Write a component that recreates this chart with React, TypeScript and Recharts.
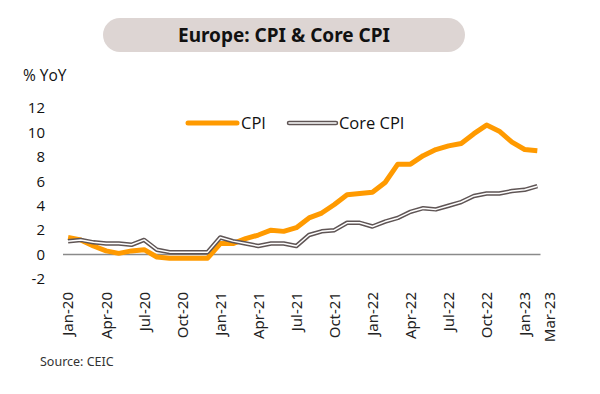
import React from 'react';
import { LineChart, Line, XAxis, YAxis, ReferenceLine, Legend } from 'recharts';

const months = [
  'Jan-20','Feb-20','Mar-20','Apr-20','May-20','Jun-20','Jul-20','Aug-20','Sep-20','Oct-20','Nov-20','Dec-20',
  'Jan-21','Feb-21','Mar-21','Apr-21','May-21','Jun-21','Jul-21','Aug-21','Sep-21','Oct-21','Nov-21','Dec-21',
  'Jan-22','Feb-22','Mar-22','Apr-22','May-22','Jun-22','Jul-22','Aug-22','Sep-22','Oct-22','Nov-22','Dec-22',
  'Jan-23','Feb-23','Mar-23',
];
const cpi = [
  1.4, 1.2, 0.7, 0.3, 0.1, 0.3, 0.4, -0.2, -0.3, -0.3, -0.3, -0.3,
  0.9, 0.9, 1.3, 1.6, 2.0, 1.9, 2.2, 3.0, 3.4, 4.1, 4.9, 5.0,
  5.1, 5.9, 7.4, 7.4, 8.1, 8.6, 8.9, 9.1, 9.9, 10.6, 10.1, 9.2,
  8.6, 8.5, null,
];
const coreCpi = [
  1.1, 1.2, 1.0, 0.9, 0.9, 0.8, 1.2, 0.4, 0.2, 0.2, 0.2, 0.2,
  1.4, 1.1, 0.9, 0.7, 0.9, 0.9, 0.7, 1.6, 1.9, 2.0, 2.6, 2.6,
  2.3, 2.7, 3.0, 3.5, 3.8, 3.7, 4.0, 4.3, 4.8, 5.0, 5.0, 5.2,
  5.3, 5.6, null,
];
const xTickLabels = ['Jan-20','Apr-20','Jul-20','Oct-20','Jan-21','Apr-21','Jul-21','Oct-21','Jan-22','Apr-22','Jul-22','Oct-22','Jan-23','Mar-23'];
const yTicks = [-2, 0, 2, 4, 6, 8, 10, 12];

const data = months.map((m, i) => ({ i, month: m, cpi: cpi[i], core: coreCpi[i] }));
const xTicks = xTickLabels.map((l) => months.indexOf(l));

const ORANGE = '#FF9A00';
const GRAY = '#5f5555';

const XTick = (props: any) => {
  const { x, y, payload } = props;
  return (
    <text
      x={x}
      y={y + 5}
      transform={`rotate(-90, ${x}, ${y + 5})`}
      textAnchor="end"
      dy="0.36em"
      fontSize={15}
      fontFamily="'Noto Sans', sans-serif"
      fill="#222"
    >
      {months[payload.value]}
    </text>
  );
};

const LegendContent = () => (
  <div style={{ display: 'flex', alignItems: 'center', fontFamily: "'Open Sans', sans-serif", fontSize: 16.5, color: '#111' }}>
    <svg width={56} height={12} style={{ display: 'block' }}>
      <line x1={3} y1={6} x2={52} y2={6} stroke={ORANGE} strokeWidth={5} strokeLinecap="round" />
    </svg>
    <span>CPI</span>
    <svg width={53} height={12} style={{ display: 'block', marginLeft: 20 }}>
      <line x1={3} y1={6} x2={50} y2={6} stroke={GRAY} strokeWidth={4.5} strokeLinecap="round" />
      <line x1={3} y1={6} x2={50} y2={6} stroke="#fff" strokeWidth={1.5} strokeLinecap="round" />
    </svg>
    <span>Core CPI</span>
  </div>
);

export default function App() {
  return (
    <div style={{ position: 'absolute', left: 0, top: 0, width: 600, height: 394, background: '#fff', overflow: 'hidden' }}>
      <div
        style={{
          position: 'absolute', left: 103, top: 18, width: 362, height: 34, borderRadius: 17,
          background: '#ddd5d3', display: 'flex', alignItems: 'center', justifyContent: 'center',
          fontFamily: "'Noto Sans', sans-serif", fontWeight: 700, fontSize: 19, color: '#111',
        }}
      >
        Europe: CPI &amp; Core CPI
      </div>
      <div style={{ position: 'absolute', left: 23, top: 64, fontFamily: "'Open Sans', sans-serif", fontSize: 15.5, color: '#111' }}>
        % YoY
      </div>
      <div style={{ position: 'absolute', left: 40, top: 353, fontFamily: "'Noto Sans', sans-serif", fontSize: 12.5, color: '#333' }}>
        Source: CEIC
      </div>
      <LineChart
        width={600}
        height={394}
        data={data}
        margin={{ top: 108, right: 50, bottom: 55, left: 23 }}
        style={{ position: 'absolute', left: 0, top: 0 }}
      >
        <XAxis
          dataKey="i"
          type="number"
          domain={[-0.4, 38]}
          ticks={xTicks}
          interval={0}
          axisLine={false}
          tickLine={false}
          height={60}
          tick={<XTick />}
        />
        <YAxis
          type="number"
          domain={[-2, 12]}
          ticks={yTicks}
          interval={0}
          axisLine={false}
          tickLine={false}
          width={40}
          tickMargin={12}
          tick={{ fontSize: 15, fontFamily: "'Open Sans', sans-serif", fill: '#111' }}
        />
        <ReferenceLine
          segment={[{ x: -0.4, y: 0 }, { x: 37.25, y: 0 }]}
          stroke="#8a8a8a"
          strokeWidth={1.5}
        />
        <Legend
          verticalAlign="middle"
          layout="horizontal"
          content={<LegendContent />}
          wrapperStyle={{ position: 'absolute', left: 185, top: 111, width: 260, height: 20 }}
        />
        <Line type="linear" dataKey="cpi" name="CPI" stroke={ORANGE} strokeWidth={5} dot={false} isAnimationActive={false} strokeLinejoin="round" />
        <Line type="linear" dataKey="core" name="Core CPI" stroke={GRAY} strokeWidth={4.5} dot={false} isAnimationActive={false} strokeLinejoin="round" legendType="none" />
        <Line type="linear" dataKey="core" name="Core CPI inner" stroke="#ffffff" strokeWidth={1.5} dot={false} isAnimationActive={false} strokeLinejoin="round" legendType="none" />
      </LineChart>
    </div>
  );
}
